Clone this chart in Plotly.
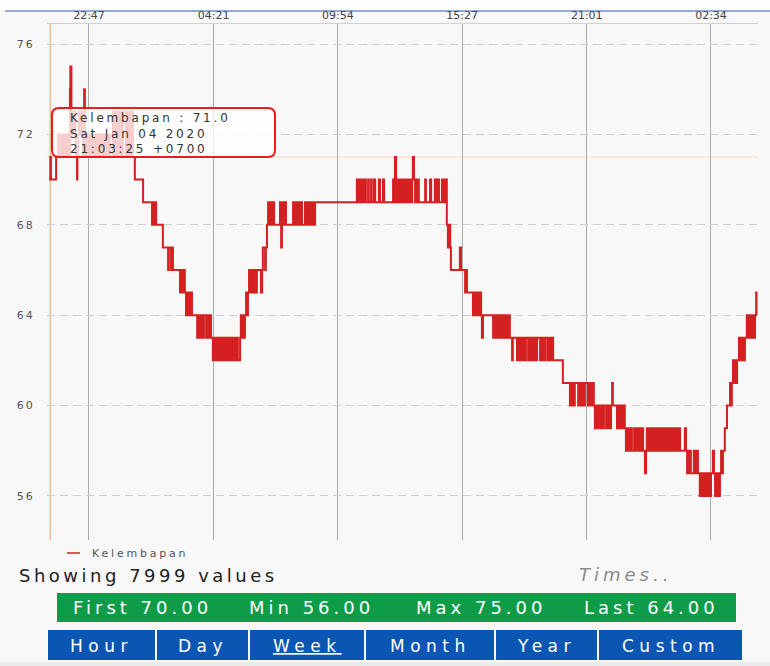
import pandas as pd
import plotly.graph_objects as go

# ---------------- data ----------------
START = pd.Timestamp("2020-01-04 21:00:00")
SERIES_NAME = "Kelembapan"

# (minutes after START, humidity value that starts at that minute)
seg_a = [(0, 70), (3.42, 71), (5, 70), (19, 71), (24, 72), (27, 71), (29, 72), (33, 71), (37, 72), (40, 71),
         (43, 72), (48, 71), (51, 72), (53, 71), (56, 74), (57, 75), (60, 72), (62, 73), (64, 72), (67, 73),
         (70, 72), (72, 71), (75, 70), (76, 71), (78, 72), (80, 73), (83, 72), (86, 73), (88, 72), (91, 71),
         (94, 74), (96, 72), (99, 71), (102, 72), (107, 71), (110, 72), (115, 71), (118, 72), (123, 71),
         (126, 72), (131, 71), (134, 72), (139, 71), (142, 72), (147, 71), (150, 72), (155, 71), (158, 72),
         (163, 71), (171, 73), (174, 71), (179, 73), (182, 71), (187, 73), (190, 71), (195, 73), (198, 71),
         (206, 73), (209, 71), (214, 73), (217, 71), (222, 73), (225, 71), (230, 70), (252, 69)]
seg_b = [(276, 68), (279, 69), (281, 68), (284, 69), (287, 68), (305, 67), (319, 66), (321, 67), (327, 66),
         (330, 67), (332, 66), (351, 65), (354, 66), (359, 65), (362, 66), (364, 65), (367, 64), (370, 65),
         (375, 64), (378, 65), (383, 64), (397, 63), (399, 64), (402, 63), (405, 64), (407, 63), (410, 64),
         (413, 63), (415, 64), (421, 63), (423, 64), (426, 63), (429, 64), (434, 63), (439, 62), (442, 63),
         (446, 62), (450, 63), (453, 62), (455, 63), (459, 62), (464, 63), (466, 62), (469, 63), (473, 62),
         (477, 63), (480, 62), (482, 63), (486, 62), (490, 63), (493, 62), (496, 63), (500, 62), (504, 63),
         (506, 62), (512, 63), (514, 64), (517, 63), (520, 64), (522, 63), (525, 64), (528, 65), (531, 64),
         (533, 65), (536, 66), (539, 65), (541, 66), (544, 65), (549, 66), (552, 65), (557, 66), (568, 65),
         (571, 66), (573, 67), (579, 66), (581, 67), (584, 68)]
seg_c = [(587, 69), (589, 68), (592, 69), (595, 68), (600, 69), (603, 68), (619, 69), (622, 67), (624, 68),
         (627, 69), (630, 68), (632, 69), (635, 68), (654, 69), (656, 68), (659, 69), (662, 68), (664, 69),
         (667, 68), (670, 69), (673, 68), (675, 69), (678, 68), (686, 69), (689, 68), (691, 69), (694, 68),
         (697, 69), (699, 68), (702, 69), (705, 68), (707, 69), (710, 68), (713, 69)]
seg_d = [(825, 70), (828, 69), (833, 70), (836, 69), (841, 70), (844, 69), (847, 70), (849, 69), (855, 70),
         (857, 69), (863, 70), (865, 69), (871, 70), (874, 69), (884, 70), (887, 69), (895, 70), (898, 69),
         (922, 70), (924, 69), (927, 71), (930, 70), (932, 69), (935, 70), (938, 69), (940, 70), (943, 69),
         (946, 70), (949, 69), (951, 70), (954, 69), (957, 70), (959, 69), (962, 70), (965, 69), (967, 70),
         (970, 69), (973, 70), (975, 71), (978, 70), (981, 69), (983, 70), (986, 69), (989, 70), (991, 69),
         (1008, 70), (1010, 69), (1021, 70), (1024, 69), (1034, 70), (1037, 69), (1042, 70), (1045, 69),
         (1053, 70), (1056, 69), (1061, 70), (1066, 68)]
seg_e = [(1069, 67), (1072, 68), (1075, 67), (1077, 66), (1101, 67), (1104, 66), (1115, 65), (1117, 66),
         (1120, 65), (1136, 64), (1139, 65), (1144, 64), (1147, 65), (1152, 64), (1155, 65), (1158, 64),
         (1160, 63), (1163, 64), (1190, 63), (1192, 64), (1195, 63), (1198, 64), (1203, 63), (1206, 64),
         (1209, 63), (1211, 64), (1214, 63), (1217, 64), (1219, 63), (1222, 64), (1225, 63), (1227, 64),
         (1230, 63), (1233, 64), (1235, 63), (1241, 62), (1243, 63), (1254, 62), (1257, 63), (1259, 62),
         (1262, 63), (1265, 62), (1268, 63), (1270, 62), (1273, 63), (1276, 62), (1278, 63), (1284, 62),
         (1286, 63), (1289, 62), (1292, 63), (1294, 62), (1297, 63), (1300, 62), (1302, 63), (1305, 62),
         (1308, 63), (1316, 62), (1318, 63), (1321, 62), (1324, 63), (1326, 62), (1329, 63), (1335, 62),
         (1337, 63), (1340, 62), (1343, 63), (1345, 62), (1348, 63), (1351, 62)]
seg_f = [(1377, 61), (1396, 60), (1399, 61), (1401, 60), (1404, 61), (1407, 60), (1409, 61), (1418, 60),
         (1420, 61), (1423, 60), (1426, 61), (1428, 60), (1431, 61), (1434, 60), (1436, 61), (1444, 60),
         (1447, 61), (1450, 60), (1452, 61), (1455, 60), (1458, 61), (1460, 60), (1463, 59), (1466, 60),
         (1468, 59), (1471, 60), (1474, 59), (1476, 60), (1479, 59), (1482, 60), (1485, 59), (1487, 60),
         (1493, 59), (1495, 60), (1498, 59), (1501, 60), (1503, 59), (1506, 60), (1509, 61), (1511, 60),
         (1522, 59), (1525, 60), (1527, 59), (1530, 60), (1533, 59), (1535, 60), (1538, 59), (1541, 60),
         (1543, 59), (1546, 58)]
seg_g = [(1549, 59), (1552, 58), (1554, 59), (1557, 58), (1560, 59), (1562, 58), (1568, 59), (1570, 58),
         (1573, 59), (1576, 58), (1578, 59), (1581, 58), (1584, 59), (1586, 58), (1589, 59), (1592, 58),
         (1597, 57), (1600, 58), (1602, 59), (1605, 58), (1608, 59), (1611, 58), (1613, 59), (1616, 58),
         (1619, 59), (1621, 58), (1624, 59), (1627, 58), (1629, 59), (1632, 58), (1635, 59), (1637, 58),
         (1640, 59), (1643, 58), (1645, 59), (1648, 58), (1651, 59), (1653, 58), (1656, 59), (1659, 58),
         (1661, 59), (1664, 58), (1667, 59), (1669, 58), (1672, 59), (1675, 58), (1678, 59), (1680, 58),
         (1683, 59), (1686, 58), (1688, 59), (1691, 58), (1704, 59), (1707, 58), (1710, 57)]
seg_h = [(1712, 58), (1715, 57), (1718, 58), (1720, 57), (1728, 58), (1731, 57), (1736, 58), (1739, 57),
         (1744, 56), (1747, 57), (1750, 56), (1753, 57), (1755, 56), (1758, 57), (1761, 56), (1763, 57),
         (1766, 56), (1769, 57), (1771, 56), (1774, 57), (1779, 58), (1782, 57), (1785, 56), (1787, 57),
         (1790, 56), (1793, 57), (1795, 56), (1798, 57), (1801, 58), (1803, 57), (1806, 58), (1811, 59),
         (1817, 60), (1825, 61), (1828, 60), (1830, 61), (1833, 62), (1836, 61), (1838, 62), (1841, 61),
         (1844, 62), (1849, 63), (1852, 62), (1857, 63), (1860, 62), (1865, 63), (1870, 64), (1873, 63),
         (1876, 64), (1878, 63), (1881, 64), (1884, 63), (1886, 64), (1889, 63), (1892, 64), (1895, 65),
         (1896, 64), (1897.5, 64)]

x_tick_times = ["2020-01-04 22:47", "2020-01-05 04:21", "2020-01-05 09:54",
                "2020-01-05 15:27", "2020-01-05 21:01", "2020-01-06 02:34"]
x_tick_labels = ["22:47", "04:21", "09:54", "15:27", "21:01", "02:34"]
y_tick_values = [56, 60, 64, 68, 72, 76]
x_range = ["2020-01-04 20:54:30", "2020-01-06 04:40:00"]
y_range = [54.05, 76.886]

highlight_time = "2020-01-04 21:03:25"
highlight_value = 71.0
tooltip_lines = ["Kelembapan : 71.0", "Sat Jan 04 2020", "21:03:25 +0700"]
values_count = 7999
buttons = ["Hour", "Day", "Week", "Month", "Year", "Custom"]
selected_button = "Week"

points = seg_a + seg_b + seg_c + seg_d + seg_e + seg_f + seg_g + seg_h
minutes = [p[0] for p in points]
values = [p[1] for p in points]
times = START + pd.to_timedelta(minutes, unit="min")

summary = [("First", values[0]), ("Min", min(values)), ("Max", max(values)), ("Last", values[-1])]

# ---------------- layout helpers (pixel -> paper) ----------------
W, H = 770, 666
PL, PR, PT, PB = 47, 758, 24, 540


def X(px):
    return (px - PL) / (PR - PL)


def Y(py):
    return (PB - py) / (PB - PT)


def sp(text, ls):
    return f'<span style="letter-spacing:{ls}px">{text}</span>'


def rrect(x0, y0, x1, y1, r):
    pts = [("M", [(x0 + r, y0)]), ("L", [(x1 - r, y0)]), ("Q", [(x1, y0), (x1, y0 + r)]),
           ("L", [(x1, y1 - r)]), ("Q", [(x1, y1), (x1 - r, y1)]), ("L", [(x0 + r, y1)]),
           ("Q", [(x0, y1), (x0, y1 - r)]), ("L", [(x0, y0 + r)]), ("Q", [(x0, y0), (x0 + r, y0)])]
    s = ""
    for cmd, ps in pts:
        s += cmd + " " + " ".join(f"{X(a):.5f},{Y(b):.5f}" for a, b in ps) + " "
    return s + "Z"


FONT = "DejaVu Sans"

fig = go.Figure()
fig.add_trace(go.Scatter(x=times, y=values, mode="lines", name=SERIES_NAME,
                         line=dict(color="#d42020", width=2, shape="hv"), showlegend=False))

shapes = []
annotations = []

# crosshair of the highlighted point
shapes.append(dict(type="line", xref="x", yref="paper", x0=highlight_time, x1=highlight_time, y0=0, y1=1,
                   line=dict(color="rgba(222,170,110,0.75)", width=1.5), layer="below"))
shapes.append(dict(type="line", xref="paper", yref="y", x0=0, x1=1, y0=highlight_value, y1=highlight_value,
                   line=dict(color="rgba(245,200,160,0.6)", width=1.2), layer="below"))

# top white strip & blue line
shapes.append(dict(type="rect", xref="paper", yref="paper", x0=X(0), x1=X(W), y0=Y(11), y1=Y(0),
                   fillcolor="white", line=dict(width=0), layer="below"))
shapes.append(dict(type="line", xref="paper", yref="paper", x0=X(5), x1=X(W), y0=Y(11), y1=Y(11),
                   line=dict(color="#2a5ea8", width=1.2)))
# bottom strip
shapes.append(dict(type="rect", xref="paper", yref="paper", x0=X(0), x1=X(W), y0=Y(H), y1=Y(662),
                   fillcolor="#ebebeb", line=dict(width=0)))

# tooltip
shapes.append(dict(type="path", xref="paper", yref="paper", path=rrect(52, 108, 275, 157, 7),
                   fillcolor="rgba(255,255,255,0.78)", line=dict(color="#ee1b1b", width=2), layer="above"))
annotations.append(dict(xref="paper", yref="paper", x=X(68), y=Y(133), xanchor="left", yanchor="middle",
                        showarrow=False, align="left",
                        text="<br>".join(sp(t, 2.8) for t in tooltip_lines),
                        font=dict(family=FONT, size=12, color="#333")))

# legend
shapes.append(dict(type="line", xref="paper", yref="paper", x0=X(67), x1=X(80), y0=Y(553), y1=Y(553),
                   line=dict(color="#d42020", width=1.5)))
annotations.append(dict(xref="paper", yref="paper", x=X(90), y=Y(553), xanchor="left", yanchor="middle",
                        showarrow=False, text=sp(SERIES_NAME, 2.8),
                        font=dict(family=FONT, size=11, color="#555")))

# showing / times
annotations.append(dict(xref="paper", yref="paper", x=X(17), y=Y(575), xanchor="left", yanchor="middle",
                        showarrow=False, text=sp(f"Showing {values_count} values", 3.5),
                        font=dict(family=FONT, size=18, color="#222")))
annotations.append(dict(xref="paper", yref="paper", x=X(577), y=Y(574), xanchor="left", yanchor="middle",
                        showarrow=False, text="<i>" + sp("Times..", 4) + "</i>",
                        font=dict(family=FONT, size=18, color="#8a8a8a")))

# summary bar
shapes.append(dict(type="rect", xref="paper", yref="paper", x0=X(57), x1=X(736), y0=Y(622), y1=Y(593),
                   fillcolor="#0e9c49", line=dict(width=0)))
for (lab, val), cx in zip(summary, [142, 311, 481, 651]):
    annotations.append(dict(xref="paper", yref="paper", x=X(cx), y=Y(607.5), xanchor="center",
                            yanchor="middle", showarrow=False, text=sp(f"{lab} {val:.2f}", 4),
                            font=dict(family=FONT, size=18, color="white")))

# buttons
btn_edges = [(48, 155), (157, 248), (250, 364), (366, 494), (496, 597), (599, 742)]
for name, (bx0, bx1) in zip(buttons, btn_edges):
    shapes.append(dict(type="rect", xref="paper", yref="paper", x0=X(bx0), x1=X(bx1), y0=Y(660), y1=Y(630),
                       fillcolor="#0b56b3", line=dict(width=0)))
    txt = f"<u>{name}</u>" if name == selected_button else name
    annotations.append(dict(xref="paper", yref="paper", x=X((bx0 + bx1) / 2), y=Y(646), xanchor="center",
                            yanchor="middle", showarrow=False, text=sp(txt, 5.5),
                            font=dict(family=FONT, size=17, color="white")))

fig.update_layout(
    width=W, height=H,
    margin=dict(l=PL, r=W - PR, t=PT, b=H - PB, autoexpand=False),
    paper_bgcolor="#f8f8f8", plot_bgcolor="#f8f8f8",
    hovermode=False, showlegend=False,
    shapes=shapes, annotations=annotations,
    xaxis=dict(type="date", side="top", range=x_range, tickvals=x_tick_times, ticktext=x_tick_labels,
               showgrid=True, gridcolor="#ababab", gridwidth=1.2, showline=True, linecolor="#d2d2d2",
               linewidth=1, ticks="", zeroline=False,
               tickfont=dict(family=FONT, size=11, color="#444")),
    yaxis=dict(range=y_range, tickvals=y_tick_values,
               ticktext=[sp(str(v), 2) for v in y_tick_values],
               showgrid=True, gridcolor="#cfcfcf", gridwidth=1, griddash="8px,5px",
               showline=False, zeroline=False, ticks="outside", ticklen=9, tickcolor="rgba(0,0,0,0)",
               tickfont=dict(family=FONT, size=11, color="#555")),
)

fig.write_html("out.html", config={"displayModeBar": False},
               post_script="document.body.style.margin='0';document.body.style.overflow='hidden';")
